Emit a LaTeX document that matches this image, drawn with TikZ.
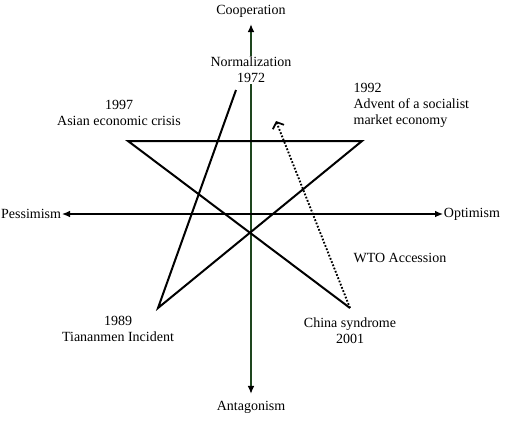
\documentclass[tikz,border=0pt]{standalone}
\usepackage{fontspec}
\setmainfont{Liberation Serif}
\usetikzlibrary{arrows.meta}
\definecolor{axgreen}{RGB}{30,70,30}
\begin{document}
\begin{tikzpicture}[x=0.75pt,y=-0.75pt,
  every node/.style={font=\fontsize{10.5}{12}\selectfont},
  lbl/.style={align=center,inner sep=1pt},
  endlbl/.style={inner xsep=1pt,inner ysep=5pt},
  sidelbl/.style={inner sep=0.5pt},
  tipfill/.style={Latex[length=6pt,width=5pt,color=black]},
  axisv/.style={draw=axgreen,line width=1.1pt,{Latex[length=6pt,width=5pt,color=black]}-{Latex[length=6pt,width=5pt,color=black]}},
  axish/.style={draw=black,line width=0.9pt,{Latex[length=6pt,width=5pt]}-{Latex[length=6pt,width=5pt]}},
  starline/.style={draw=black,line width=1.5pt,line join=miter},
  dotarrow/.style={draw=black,line width=1.4pt,dash pattern=on 1.3pt off 1.3pt,-{Straight Barb[length=4pt,width=9pt,line width=1.3pt]}}]
\useasboundingbox (0,0) rectangle (505,430);
% axes
\node[endlbl] (coop) at (251,11) {Cooperation};
\node[endlbl] (ant) at (251,407) {Antagonism};
\node[sidelbl,anchor=east] (pess) at (62,214) {Pessimism};
\node[sidelbl,anchor=west] (opt) at (443,214) {Optimism};
\draw[axisv] (ant) -- (coop);
\draw[axish] (pess) -- (opt);
% star
\coordinate (n72) at (236,90);
\coordinate (t89) at (158,308);
\coordinate (a92) at (362,141);
\coordinate (a97) at (128,141);
\coordinate (c01) at (350,308);
\coordinate (tip) at (276,121);
\draw[starline] (n72) -- (t89) -- (a92) -- (a97) -- (c01);
\draw[dotarrow] (c01) -- (tip);
% labels
\node[lbl,fill=white] (norm) at (251,70) {Normalization\\1972};
\node[lbl] (l97) at (119,113) {1997\\Asian economic crisis};
\node[lbl,align=left,anchor=west] (l92) at (352,105) {1992\\Advent of a socialist\\market economy};
\node[lbl] (l89) at (118,329) {1989\\Tiananmen Incident};
\node[lbl] (l01) at (350,331) {China syndrome\\2001};
\node[lbl,anchor=west] (wto) at (352,258) {WTO Accession};
\end{tikzpicture}
\end{document}
